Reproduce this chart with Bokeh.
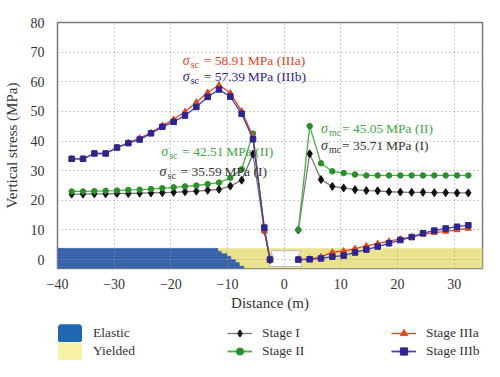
import math
from bokeh.plotting import figure
from bokeh.layouts import column
from bokeh.models import Label, Legend, LegendItem, FixedTicker
from bokeh.embed import file_html
from bokeh.resources import INLINE

NAN = float("nan")

# ---------------- data ----------------
x_left = [-37.5, -35.5, -33.5, -31.5, -29.5, -27.5, -25.5, -23.5, -21.5, -19.5,
          -17.5, -15.5, -13.5, -11.5, -9.5, -7.5, -5.5, -3.5, -2.5]
x_right = [2.5, 4.5, 6.5, 8.5, 10.5, 12.5, 14.5, 16.5, 18.5, 20.5, 22.5, 24.5,
           26.5, 28.5, 30.5, 32.5]

stage1_left = [22.1, 22.1, 22.2, 22.2, 22.3, 22.3, 22.4, 22.5, 22.6, 22.7, 22.9,
               23.1, 23.4, 23.7, 24.8, 26.8, 35.59, 9.8, 0.0]
stage2_left = [23.0, 23.0, 23.1, 23.2, 23.3, 23.5, 23.6, 23.8, 24.1, 24.4, 24.7,
               25.0, 25.5, 26.0, 27.6, 30.5, 42.51, 9.8, 0.0]
stage3a_left = [34.0, 34.0, 35.8, 35.8, 37.8, 39.4, 41.0, 42.8, 45.2, 47.3, 49.9,
                53.1, 56.4, 58.91, 56.2, 50.1, 41.5, 9.6, 0.0]
stage3b_left = [34.0, 34.0, 35.8, 35.8, 37.8, 39.3, 40.5, 42.6, 44.8, 46.5, 48.6,
                51.5, 54.9, 57.39, 55.0, 49.2, 40.6, 10.8, 0.0]

stage1_right = [10.0, 35.71, 27.0, 24.7, 24.2, 23.6, 23.3, 23.2, 22.9, 22.8, 22.7,
                22.7, 22.6, 22.6, 22.5, 22.5]
stage2_right = [10.0, 45.05, 32.5, 29.8, 29.2, 28.7, 28.4, 28.4, 28.4, 28.4, 28.4,
                28.4, 28.4, 28.4, 28.4, 28.4]
stage3a_right = [0.0, 0.2, 0.9, 2.5, 2.9, 3.7, 4.6, 5.4, 6.2, 7.0, 7.6, 8.5, 9.1,
                 9.5, 10.0, 10.5]
stage3b_right = [0.0, 0.1, 0.4, 1.0, 1.35, 2.4, 3.4, 4.4, 5.5, 6.6, 7.6, 8.9, 9.8,
                 10.5, 11.1, 11.6]

# zone band (elastic / yielded) under the curves
zone_left = -40.0
zone_right = 35.0
zone_top = 3.8
zone_bottom = -3.0
elastic_step_right = [-11.7, -11.1, -10.1, -9.4, -8.6, -7.9, -7.1]
elastic_step_top = [3.8, 2.8, 2.0, 1.1, 0.0, -1.0, -2.2]
elastic_step_bottom = [2.8, 2.0, 1.1, 0.0, -1.0, -2.2, -3.0]
excav_x = [-2.3, 3.0, 2.2, 3.3, -2.6, -2.0]
excav_y = [3.0, 3.0, 0.6, -2.3, -2.3, 0.6]

x_ticks = [-40, -30, -20, -10, 0, 10, 20, 30]
x_tick_labels = ["\u221240", "\u221230", "\u221220", "\u221210", "0", "10", "20", "30"]
y_ticks = [0, 10, 20, 30, 40, 50, 60, 70, 80]

# annotations
ann_x = [-17.9, -17.9, -21.7, -22.0, 6.5, 6.5]
ann_y = [67.1, 61.8, 36.5, 29.8, 44.4, 38.5]
ann_sub = ["sc", "sc", "sc", "sc", "mc", "mc"]
ann_text = ["= 58.91\u2009MPa (IIIa)", "= 57.39\u2009MPa (IIIb)", "= 42.51\u2009MPa (II)",
            "= 35.59\u2009MPa (I)", "= 45.05\u2009MPa (II)", "= 35.71\u2009MPa (I)"]

FONT = "Liberation Serif"
C1_LINE, C1_MARK = "#7a7a7a", "#111111"
C2_LINE, C2_MARK = "#4cab4c", "#2b902b"
C3A = "#e0461e"
C3B_LINE, C3B_MARK = "#4a3fa8", "#2e2490"
ann_color = [C3A, C3B_MARK, "#45a545", "#333333", "#45a545", "#333333"]

# ---------------- main figure ----------------
p = figure(frame_width=425, frame_height=246,
           x_range=(-40, 35), y_range=(-3, 80),
           output_backend="svg", toolbar_location=None,
           min_border_left=49, min_border_right=10, min_border_top=22,
           min_border_bottom=44)
p.background_fill_color = "white"
p.border_fill_color = "white"
p.outline_line_color = "#7a7a7a"
p.outline_line_width = 1.5

for ax in (p.xaxis[0], p.yaxis[0]):
    ax.axis_line_color = None
    ax.major_tick_line_color = None
    ax.minor_tick_line_color = None
    ax.major_label_text_font = FONT
    ax.major_label_text_font_size = "14px"
    ax.major_label_text_color = "#333333"
    ax.axis_label_text_font = FONT
    ax.axis_label_text_font_size = "15px"
    ax.axis_label_text_font_style = "normal"
    ax.axis_label_text_color = "#333333"

p.xaxis.major_label_standoff = 4
p.yaxis.major_label_standoff = 7
p.xaxis.ticker = FixedTicker(ticks=x_ticks)
p.xaxis.major_label_overrides = {t: l for t, l in zip(x_ticks, x_tick_labels)}
p.yaxis.ticker = FixedTicker(ticks=y_ticks)
p.xaxis.axis_label = "Distance (m)"
p.yaxis.axis_label = "Vertical stress (MPa)"
p.xaxis.axis_label_standoff = 3
p.yaxis.axis_label_standoff = 8

for g in (p.xgrid[0], p.ygrid[0]):
    g.grid_line_color = "#9a9a9a"
    g.grid_line_dash = "1 3"
    g.grid_line_width = 1
    g.level = "underlay"

ELASTIC_C, YIELD_C = "#3562ad", "#ebe28e"
ELASTIC_LEG, YIELD_LEG = "#2166b0", "#f8f2a6"

# zone band
p.quad(left=[zone_left], right=[zone_right], top=[zone_top], bottom=[zone_bottom],
       fill_color=YIELD_C, line_color=None, level="image")
p.quad(left=[zone_left] * len(elastic_step_right), right=elastic_step_right,
       top=elastic_step_top, bottom=elastic_step_bottom,
       fill_color=ELASTIC_C, line_color=ELASTIC_C, line_width=0.5, level="image")
p.patch(excav_x, excav_y, fill_color="white", line_color="#bdbdbd", line_width=1,
        level="image")

# curves
def join(a, b):
    return a + [NAN] + b

X = join(x_left, x_right)
S1, S2 = join(stage1_left, stage1_right), join(stage2_left, stage2_right)
S3A, S3B = join(stage3a_left, stage3a_right), join(stage3b_left, stage3b_right)

p.line(X, S1, line_color=C1_LINE, line_width=1.3)
p.scatter(X, S1, marker="diamond", size=8, fill_color=C1_MARK, line_color=C1_MARK)
p.line(X, S2, line_color=C2_LINE, line_width=1.3)
p.scatter(X, S2, marker="circle", size=5.5, fill_color=C2_MARK, line_color=C2_MARK)
p.line(X, S3A, line_color=C3A, line_width=1.3)
p.scatter(X, S3A, marker="triangle", size=6, fill_color=C3A, line_color=C3A)
p.line(X, S3B, line_color=C3B_LINE, line_width=1.3)
p.scatter(X, S3B, marker="square", size=5.5, fill_color=C3B_MARK, line_color=C3B_MARK)

# annotations
for x, y, sub, txt, col in zip(ann_x, ann_y, ann_sub, ann_text, ann_color):
    p.add_layout(Label(x=x, y=y, text="\u03c3", text_font=FONT, text_font_size="14px",
                       text_font_style="italic", text_color=col,
                       text_baseline="middle", text_align="left"))
    p.add_layout(Label(x=x, y=y, x_offset=8, y_offset=-4, text=sub, text_font=FONT,
                       text_font_size="10px", text_color=col,
                       text_baseline="middle", text_align="left"))
    p.add_layout(Label(x=x, y=y, x_offset=21, text=txt, text_font=FONT,
                       text_font_size="13.5px", text_color=col,
                       text_baseline="middle", text_align="left"))

# ---------------- legend strip (same frame geometry as the chart) ----------------
q = figure(frame_width=425, frame_height=56, x_range=(-40, 35), y_range=(1000, 1001),
           output_backend="svg", toolbar_location=None,
           x_axis_location=None, y_axis_location=None,
           min_border_left=49, min_border_right=10, min_border_top=0,
           min_border_bottom=0)
q.grid.visible = False
q.outline_line_color = None
q.background_fill_color = "white"
q.border_fill_color = "white"

# legend-only renderers (hidden; they share the chart's data)
re = q.quad(left=[zone_left], right=[zone_right], top=[zone_top], bottom=[zone_bottom],
            fill_color=ELASTIC_LEG, line_color=ELASTIC_LEG, line_width=4, visible=False)
ry = q.quad(left=[zone_left], right=[zone_right], top=[zone_top], bottom=[zone_bottom],
            fill_color=YIELD_LEG, line_color=YIELD_LEG, line_width=4, visible=False)
l1l = q.line(X, S1, line_color=C1_LINE, line_width=1.3, visible=False)
l1m = q.scatter(X, S1, marker="diamond", size=7, fill_color=C1_MARK, line_color=C1_MARK,
                visible=False)
l2l = q.line(X, S2, line_color=C2_LINE, line_width=1.8, visible=False)
l2m = q.scatter(X, S2, marker="circle", size=5, fill_color=C2_MARK, line_color=C2_MARK,
                visible=False)
l3al = q.line(X, S3A, line_color=C3A, line_width=1.3, visible=False)
l3am = q.scatter(X, S3A, marker="triangle", size=5, fill_color=C3A, line_color=C3A,
                 visible=False)
l3bl = q.line(X, S3B, line_color=C3B_LINE, line_width=1.8, visible=False)
l3bm = q.scatter(X, S3B, marker="square", size=5, fill_color=C3B_MARK,
                 line_color=C3B_MARK, visible=False)

def make_legend(items, loc, standoff):
    lg = Legend(items=items, location=loc, orientation="vertical",
                border_line_color=None, background_fill_alpha=0,
                inactive_fill_alpha=0,
                padding=0, margin=0, spacing=0,
                glyph_width=25, glyph_height=18, label_height=18,
                label_standoff=standoff, label_text_font=FONT,
                label_text_font_size="13.5px", label_text_color="#333333")
    q.add_layout(lg, "center")

make_legend([LegendItem(label="Elastic", renderers=[re]),
             LegendItem(label="Yielded", renderers=[ry])], (0, 9), 11)
make_legend([LegendItem(label="Stage I", renderers=[l1l, l1m]),
             LegendItem(label="Stage II", renderers=[l2l, l2m])], (170, 9), 10)
make_legend([LegendItem(label="Stage IIIa", renderers=[l3al, l3am]),
             LegendItem(label="Stage IIIb", renderers=[l3bl, l3bm])], (334, 9), 10)

layout = column(p, q, spacing=0)
open("out.html", "w").write(file_html(layout, INLINE))
